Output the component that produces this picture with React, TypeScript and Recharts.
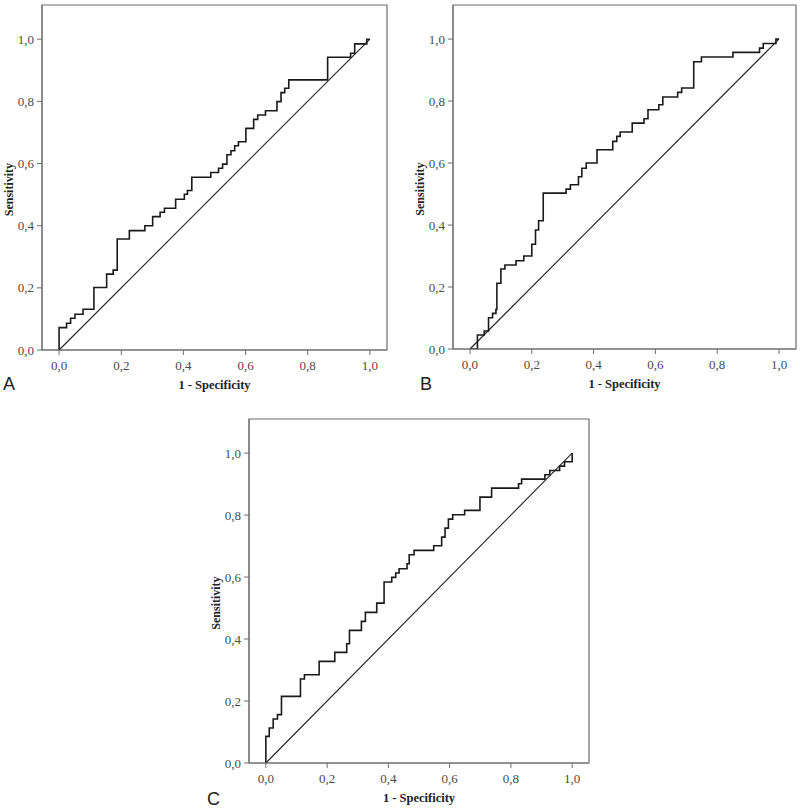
import React from 'react'
import {
  Label,
  Line,
  LineChart,
  ReferenceArea,
  ReferenceLine,
  XAxis,
  YAxis,
} from 'recharts'

// ROC points (1 - specificity, sensitivity)
const rocA: [number, number][] = [
  [0, 0], [0, 0.072], [0.024, 0.086], [0.037, 0.102], [0.051, 0.115],
  [0.077, 0.131], [0.112, 0.201], [0.153, 0.244], [0.174, 0.257],
  [0.187, 0.357], [0.226, 0.384], [0.276, 0.4], [0.301, 0.429],
  [0.325, 0.443], [0.339, 0.456], [0.375, 0.485], [0.403, 0.501],
  [0.413, 0.513], [0.427, 0.556], [0.488, 0.571], [0.513, 0.585],
  [0.526, 0.598], [0.54, 0.628], [0.553, 0.641], [0.565, 0.657],
  [0.577, 0.67], [0.601, 0.713], [0.626, 0.742], [0.639, 0.756],
  [0.664, 0.77], [0.701, 0.799], [0.714, 0.828], [0.726, 0.842],
  [0.739, 0.869], [0.864, 0.942], [0.938, 0.955], [0.951, 0.985],
  [0.99, 1.0], [1, 1],
]

const rocB: [number, number][] = [
  [0, 0], [0.024, 0], [0.024, 0.045], [0.046, 0.058], [0.06, 0.101],
  [0.073, 0.115], [0.084, 0.128], [0.087, 0.212], [0.1, 0.233],
  [0.1, 0.258], [0.113, 0.271], [0.149, 0.285], [0.174, 0.3],
  [0.2, 0.338], [0.212, 0.384], [0.222, 0.414], [0.237, 0.503],
  [0.311, 0.516], [0.325, 0.53], [0.351, 0.556], [0.362, 0.583],
  [0.376, 0.6], [0.411, 0.643], [0.462, 0.67], [0.475, 0.686],
  [0.486, 0.7], [0.525, 0.729], [0.563, 0.743], [0.576, 0.772],
  [0.611, 0.788], [0.624, 0.813], [0.672, 0.828], [0.685, 0.842],
  [0.724, 0.927], [0.749, 0.942], [0.851, 0.957], [0.937, 0.971],
  [0.949, 0.986], [0.99, 1.0], [1, 1],
]

const rocC: [number, number][] = [
  [0, 0], [0, 0.086], [0.011, 0.113], [0.024, 0.142], [0.038, 0.156],
  [0.051, 0.215], [0.113, 0.271], [0.126, 0.285], [0.174, 0.328],
  [0.225, 0.357], [0.264, 0.385], [0.273, 0.428], [0.312, 0.457],
  [0.325, 0.486], [0.362, 0.516], [0.386, 0.584], [0.411, 0.599],
  [0.424, 0.613], [0.435, 0.627], [0.461, 0.643], [0.468, 0.672],
  [0.484, 0.686], [0.548, 0.701], [0.574, 0.729], [0.585, 0.758],
  [0.596, 0.787], [0.61, 0.801], [0.649, 0.815], [0.699, 0.858],
  [0.737, 0.887], [0.825, 0.901], [0.835, 0.916], [0.911, 0.93],
  [0.927, 0.944], [0.959, 0.958], [0.975, 0.972], [1, 1],
]

const TICKS = [0, 0.2, 0.4, 0.6, 0.8, 1.0]
const X_DOMAIN: [number, number] = [-0.055, 1.055]
const Y_DOMAIN: [number, number] = [0, 1.11]

const SERIF = '"Liberation Serif", "Times New Roman", serif'
const FRAME = '#6e6e6e'
const TICK_STYLE = {
  fontSize: 13,
  fill: '#4a4a4a',
  fontFamily: SERIF,
  style: { fontFamily: SERIF },
}

function formatTick(v: number): string {
  return v.toFixed(1).replace('.', ',')
}

function SensitivityLabel(props: any) {
  const vb = props.viewBox ?? { x: 0, y: 0, width: 0, height: 0 }
  const cx = vb.x + 1
  const cy = vb.y + vb.height * (1 - 0.5 / 1.11) - 5
  return (
    <text
      x={cx}
      y={cy}
      transform={`rotate(-90 ${cx} ${cy})`}
      textAnchor="middle"
      dominantBaseline="central"
      style={{ fontFamily: SERIF, fontWeight: 'bold', fontSize: 12 }}
      fill="#222"
    >
      Sensitivity
    </text>
  )
}

function RocPanel({
  data,
  left,
  top,
  margin,
}: {
  data: [number, number][]
  left: number
  top: number
  margin: { top: number; right: number; bottom: number; left: number }
}) {
  const points = data.map(([x, y]) => ({ x, y }))

  return (
    <div style={{ position: 'absolute', left, top }}>
      <LineChart width={400} height={400} data={points} margin={margin}>
        <ReferenceArea
          x1={X_DOMAIN[0]}
          x2={X_DOMAIN[1]}
          y1={Y_DOMAIN[0]}
          y2={Y_DOMAIN[1]}
          fill="none"
          stroke={FRAME}
          strokeWidth={1.2}
          ifOverflow="visible"
        />
        <XAxis
          type="number"
          dataKey="x"
          domain={X_DOMAIN}
          ticks={TICKS}
          tickFormatter={formatTick}
          allowDataOverflow
          height={30}
          tick={TICK_STYLE}
          tickSize={5}
          tickMargin={6}
          stroke={FRAME}
          label={{
            value: '1 - Specificity',
            position: 'bottom',
            offset: 0,
            style: {
              fontFamily: SERIF,
              fontWeight: 'bold',
              fontSize: 12.5,
              fill: '#222',
            },
          }}
        />
        <YAxis
          type="number"
          domain={Y_DOMAIN}
          ticks={TICKS}
          tickFormatter={formatTick}
          allowDataOverflow
          width={34}
          tick={TICK_STYLE}
          tickSize={5}
          tickMargin={3}
          stroke={FRAME}
        >
          <Label content={<SensitivityLabel />} />
        </YAxis>
        <ReferenceLine
          segment={[
            { x: 0, y: 0 },
            { x: 1, y: 1 },
          ]}
          stroke="#222"
          strokeWidth={1.1}
        />
        <Line
          type="stepAfter"
          dataKey="y"
          stroke="#1a1a1a"
          strokeWidth={1.6}
          dot={false}
          isAnimationActive={false}
        />
      </LineChart>
    </div>
  )
}

function PanelLetter({ text, left, top }: { text: string; left: number; top: number }) {
  return (
    <div
      style={{
        position: 'absolute',
        left,
        top,
        fontFamily: '"Liberation Sans", Arial, sans-serif',
        fontSize: 18,
        lineHeight: '21px',
        color: '#222',
      }}
    >
      {text}
    </div>
  )
}

export default function App() {
  return (
    <div
      style={{
        position: 'absolute',
        left: 0,
        top: 0,
        width: 800,
        height: 809,
        background: '#fff',
        overflow: 'hidden',
      }}
    >
      <RocPanel
        data={rocA}
        left={0}
        top={0}
        margin={{ top: 5, right: 13, bottom: 20, left: 8 }}
      />
      <RocPanel
        data={rocB}
        left={400}
        top={0}
        margin={{ top: 5, right: 4, bottom: 21, left: 19 }}
      />
      <RocPanel
        data={rocC}
        left={200}
        top={410}
        margin={{ top: 9, right: 11, bottom: 17, left: 15 }}
      />
      <PanelLetter text="A" left={3} top={374} />
      <PanelLetter text="B" left={420} top={374} />
      <PanelLetter text="C" left={207} top={789} />
    </div>
  )
}
